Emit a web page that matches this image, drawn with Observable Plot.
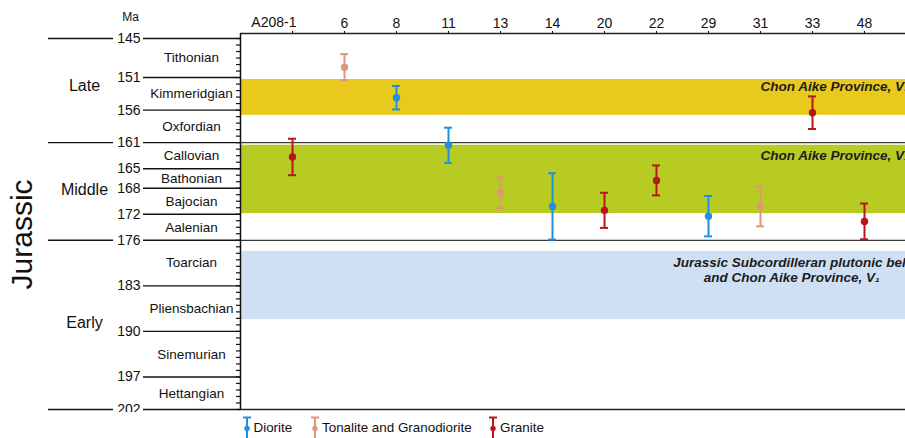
<!DOCTYPE html>
<html>
<head>
<meta charset="utf-8">
<script src="https://cdn.jsdelivr.net/npm/d3@7"></script>
<script src="https://cdn.jsdelivr.net/npm/@observablehq/plot@0.6"></script>
<style>
  html, body { margin: 0; padding: 0; background: #fff; overflow: hidden; width: 905px; height: 438px; }
  #chart svg { display: block; }
  .legend { position: relative; height: 26px; font: 13.4px "Liberation Sans", Arial, sans-serif; color: #111; }
  .legend svg { position: absolute; top: 0; }
  .legend span { position: absolute; top: 3px; line-height: 26px; white-space: nowrap; }
</style>
</head>
<body>
<div id="chart"></div>
<div class="legend" id="legend"></div>
<script>
// U–Pb ages of the sampled intrusions (Ma, with 2σ error)
const samples = ["A208-1", "6", "8", "11", "13", "14", "20", "22", "29", "31", "33", "48"];
const rockType = ["Granite", "Tonalite and Granodiorite", "Diorite", "Diorite", "Tonalite and Granodiorite",
  "Diorite", "Granite", "Granite", "Diorite", "Tonalite and Granodiorite", "Granite", "Granite"];
const ageMa = [163.2, 149.4, 154.1, 161.4, 168.7, 170.8, 171.4, 166.8, 172.3, 170.8, 156.4, 173.1];
const errMa = [2.8, 2.0, 1.8, 2.7, 2.35, 5.1, 2.7, 2.3, 3.1, 3.05, 2.5, 2.75];

// Rock types and their colours
const rockTypes = ["Diorite", "Tonalite and Granodiorite", "Granite"];
const rockColors = ["#1f8fdf", "#dc9878", "#b5171c"];

// Jurassic time scale (Ma)
const stageBounds = [145, 151, 156, 161, 165, 168, 172, 176, 183, 190, 197, 202];
const stageNames = ["Tithonian", "Kimmeridgian", "Oxfordian", "Callovian", "Bathonian", "Bajocian",
  "Aalenian", "Toarcian", "Pliensbachian", "Sinemurian", "Hettangian"];
const epochBounds = [145, 161, 176, 202];
const epochNames = ["Late", "Middle", "Early"];
const epochLabelAt = [152.3, 168.2, 188.7];

// Magmatic provinces (Ma ranges)
const bandTop = [151.3, 161.4, 177.7];
const bandBottom = [156.8, 171.9, 188.2];
const bandColors = ["#e9c91c", "#b7cb23", "#cfe0f5"];
const bandLabels = ["Chon Aike Province, V\u2083", "Chon Aike Province, V\u2082",
  "Jurassic Subcordilleran plutonic belt\nand Chon Aike Province, V\u2081"];
const bandLabelAge = [152.45, 163.0, 180.55];

const yTop = 144.23;
const font = '"Liberation Sans", Arial, sans-serif';
const colorOf = t => rockColors[rockTypes.indexOf(t)];

const rows = samples.map((s, i) => ({
  i, sample: s, type: rockType[i], age: ageMa[i],
  lo: ageMa[i] - errMa[i], hi: ageMa[i] + errMa[i], color: colorOf(rockType[i])
}));
const stages = stageNames.map((name, k) => ({name, mid: (stageBounds[k] + stageBounds[k + 1]) / 2}));
const epochs = epochNames.map((name, k) => ({name, at: epochLabelAt[k]}));
const bands = bandLabels.map((label, k) => ({
  label, y1: bandTop[k], y2: bandBottom[k], fill: bandColors[k], at: bandLabelAge[k]
}));

const chart = Plot.plot({
  width: 905,
  height: 412,
  marginTop: 33,
  marginBottom: 3,
  marginLeft: 240,
  marginRight: 0,
  style: {fontFamily: font, fontSize: "14px", color: "#111", background: "#fff", overflow: "hidden"},
  x: {domain: [-1, 12], range: [240, 916]},
  y: {domain: [yTop, 202], reverse: true},
  color: {type: "identity"},
  marks: [
    // province bands
    Plot.rect(bands, {y1: "y1", y2: "y2", fill: "fill"}),
    Plot.text(bands.slice(0, 2), {x: 9, y: "at", text: "label", textAnchor: "start",
      fontWeight: "bold", fontStyle: "italic", fontSize: 13.5, fill: "#1c1c1c"}),
    Plot.text(bands.slice(2), {x: 9.6, y: "at", text: "label", textAnchor: "middle", lineHeight: 1.12,
      fontWeight: "bold", fontStyle: "italic", fontSize: 13.5, fill: "#1c1c1c"}),

    // epoch boundaries across the plot
    Plot.ruleY([161, 176], {stroke: "#3a3a3a", strokeWidth: 1.3}),
    Plot.ruleY([yTop], {stroke: "#222", strokeWidth: 1.3}),
    Plot.ruleY([202], {stroke: "#222", strokeWidth: 1.3}),
    Plot.ruleX([-1], {y1: yTop, y2: 202, stroke: "#111", strokeWidth: 1.5}),

    // time-scale column on the left
    Plot.ruleY(d3.range(145, 203), {x1: -1, x2: -1, insetLeft: -4, stroke: "#111", strokeWidth: 1.2}),
    Plot.ruleY(stageBounds, {x1: -1, x2: -1, insetLeft: -97, stroke: "#111", strokeWidth: 1.4}),
    Plot.ruleY(epochBounds, {x1: -1, x2: -1, insetLeft: -192, insetRight: 127, stroke: "#111", strokeWidth: 1.4}),
    Plot.axisY({ticks: stageBounds, tickSize: 0, tickPadding: 100, fontSize: 14, label: null}),
    Plot.text(["Ma"], {x: -1, y: yTop, dx: -110, dy: -16, text: d => d, fontSize: 12}),
    Plot.text(stages, {x: -1, y: "mid", dx: -49, text: "name", fontSize: 13.5}),
    Plot.text(epochs, {x: -1, y: "at", dx: -156, text: "name", fontSize: 16}),
    Plot.text(["Jurassic"], {x: -1, y: 175.1, dx: -218, text: d => d, rotate: -90, fontSize: 30}),

    // sample axis on top
    Plot.axisX({anchor: "top", ticks: d3.range(samples.length), tickSize: 3, tickPadding: 3,
      tickFormat: i => (i === 0 ? "" : samples[i]), fontSize: 14, label: null}),
    Plot.text([samples[0]], {x: 0, y: yTop, dx: 4, dy: -11, text: d => d, textAnchor: "end", fontSize: 14}),

    // age estimates with error bars
    Plot.ruleX(rows, {x: "i", y1: "lo", y2: "hi", stroke: "color", strokeWidth: 2}),
    Plot.ruleY(rows, {y: "lo", x1: "i", x2: "i", insetLeft: -4, insetRight: -4, stroke: "color", strokeWidth: 2}),
    Plot.ruleY(rows, {y: "hi", x1: "i", x2: "i", insetLeft: -4, insetRight: -4, stroke: "color", strokeWidth: 2}),
    Plot.dot(rows, {x: "i", y: "age", r: 3.7, fill: "color", stroke: "none"})
  ]
});
document.getElementById("chart").append(chart);

// legend: error-bar glyph + rock type
const legendLeft = [241.5, 310, 488];
const legend = d3.select("#legend");
rockTypes.forEach((t, k) => {
  const c = rockColors[k];
  const g = legend.append("svg").attr("width", 10).attr("height", 26).style("left", legendLeft[k] + "px");
  g.append("line").attr("x1", 5).attr("x2", 5).attr("y1", 5.5).attr("y2", 26).attr("stroke", c).attr("stroke-width", 2);
  g.append("line").attr("x1", 1).attr("x2", 9).attr("y1", 5.5).attr("y2", 5.5).attr("stroke", c).attr("stroke-width", 2);
  g.append("circle").attr("cx", 5).attr("cy", 16.5).attr("r", 2.7).attr("fill", c);
  legend.append("span").style("left", (legendLeft[k] + 12) + "px").text(t);
});
</script>
</body>
</html>
